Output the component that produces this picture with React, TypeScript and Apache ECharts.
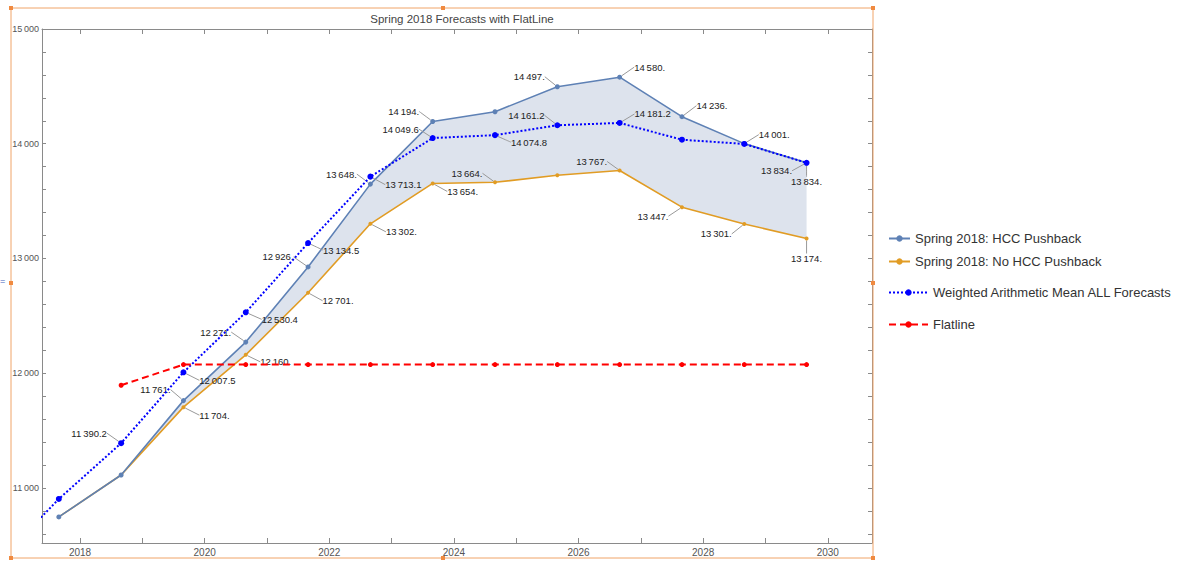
import React, { useEffect, useRef } from "react";
import * as echarts from "echarts";

// ---- data ----
const years = [2017.66, 2018.66, 2019.66, 2020.66, 2021.66, 2022.66, 2023.66, 2024.66, 2025.66, 2026.66, 2027.66, 2028.66, 2029.66];
const hccPushback = [10747, 11113, 11761, 12271, 12926, 13648, 14194, 14279, 14497, 14580, 14236, 14001, 13834];
const noHccPushback = [10747, 11113, 11704, 12160, 12701, 13302, 13654, 13664, 13725, 13767, 13447, 13301, 13174];
const meanYears = [2016.66, 2017.66, 2018.66, 2019.66, 2020.66, 2021.66, 2022.66, 2023.66, 2024.66, 2025.66, 2026.66, 2027.66, 2028.66, 2029.66];
const weightedMean = [10340, 10904, 11390.2, 12007.5, 12530.4, 13134.5, 13713.1, 14049.6, 14074.8, 14161.2, 14181.2, 14035, 13998, 13834];
const flatYears = [2018.66, 2019.66, 2020.66, 2021.66, 2022.66, 2023.66, 2024.66, 2025.66, 2026.66, 2027.66, 2028.66, 2029.66];
const flatline = [11895, 12075, 12075, 12075, 12075, 12075, 12075, 12075, 12075, 12075, 12075, 12075];

const xTicks = [2018, 2019, 2020, 2021, 2022, 2023, 2024, 2025, 2026, 2027, 2028, 2029, 2030];
const xLabels = [2018, 2020, 2022, 2024, 2026, 2028, 2030];
const yLabels = [11000, 12000, 13000, 14000, 15000];
const yTicks = [10600, 10800, 11000, 11200, 11400, 11600, 11800, 12000, 12200, 12400, 12600, 12800, 13000, 13200, 13400, 13600, 13800, 14000, 14200, 14400, 14600, 14800, 15000];

const NAMES = [
  "Spring 2018: HCC Pushback",
  "Spring 2018: No HCC Pushback",
  "Weighted Arithmetic Mean ALL Forecasts",
  "Flatline",
];

// label placement (offset of label centre from its point), null = no label
type P = [number, number] | null;
const hccLabelPos: P[] = [null, null, [-28, -11], [-30, -10], [-30, -10], [-29, -10], [-29, -10], null, [-28, -10], [30, -10], [30, -11], [30, -9], [0, 19]];
const noHccLabelPos: P[] = [null, null, [31, 8], [30, 7], [30, 8], [31, 8], [30, 8], [-28, -9], null, [-28, -9], [-29, 9], [-28, 10], [0, 20]];
const meanLabelPos: P[] = [null, null, [-32, -10], [34, 8], [34, 7], [33, 7], [33, 8], [-32, -9], [34, 7], [-31, -10], [33, -9], null, null, [-30, 8]];

const SP = "\u2009";
function group(s: string) {
  return s.replace(/\B(?=(\d{3})+(?!\d))/g, SP);
}
function fmtValue(v: number) {
  if (Number.isInteger(v)) return group(String(v)) + ".";
  const [i, d] = v.toFixed(1).split(".");
  return group(i) + "." + d;
}

const FONT = "'Liberation Sans', Arial, Helvetica, sans-serif";
const C_HCC = "#5e81b5";
const C_NO = "#e19c24";
const C_MEAN = "#0000ff";
const C_FLAT = "#ff0000";
const AXIS = "#8a8a8a";

function pairs(xs: number[], ys: number[]) {
  return ys.map((y, i) => [xs[i], y]);
}

function labelled(pos: P[]) {
  return {
    label: {
      show: true,
      position: "inside",
      fontSize: 9.5,
      fontFamily: FONT,
      color: "#222",
      formatter: (p: any) => (pos[p.dataIndex] ? fmtValue(p.value[1]) : ""),
    },
    labelLine: { show: true, smooth: 0.4, lineStyle: { color: "#999", width: 1 } },
    labelLayout: (p: any) => {
      const o = pos[p.dataIndex];
      return o ? { dx: o[0], dy: o[1] } : {};
    },
  };
}

export default function App() {
  const ref = useRef<HTMLDivElement>(null);
  useEffect(() => {
    if (!ref.current) return;
    const chart = echarts.init(ref.current, undefined, { renderer: "svg" });
    const legendBase = {
      orient: "vertical",
      left: 888,
      padding: 0,
      itemHeight: 8,
      itemGap: 5,
      textStyle: { fontSize: 13, fontFamily: FONT, color: "#333" },
      selectedMode: false,
    };
    const option: any = {
      animation: false,
      backgroundColor: "#fff",
      title: {
        text: "Spring 2018 Forecasts with FlatLine",
        left: 457,
        top: 8,
        textAlign: "center",
        textStyle: { fontSize: 11.5, fontWeight: "normal", color: "#444", fontFamily: FONT },
      },
      legend: [
        { ...legendBase, data: [NAMES[0]], top: 232, itemWidth: 21 },
        { ...legendBase, data: [NAMES[1]], top: 255, itemWidth: 21 },
        { ...legendBase, data: [NAMES[2]], top: 286, itemWidth: 39 },
        { ...legendBase, data: [NAMES[3]], top: 318, itemWidth: 39 },
      ],
      grid: { left: 42, right: 322, top: 29, bottom: 18, containLabel: false },
      xAxis: [
        {
          type: "value",
          min: 2017.39,
          max: 2030.71,
          axisLine: { show: true, lineStyle: { color: AXIS } },
          axisTick: { show: true, inside: true, length: 5, customValues: xTicks, lineStyle: { color: AXIS } },
          axisLabel: { customValues: xLabels, formatter: (v: number) => String(v), fontSize: 10, color: "#555", margin: 4, fontFamily: FONT },
          splitLine: { show: false },
        },
        {
          type: "value",
          position: "top",
          min: 2017.39,
          max: 2030.71,
          axisLine: { show: true, lineStyle: { color: AXIS } },
          axisTick: { show: true, inside: true, length: 5, customValues: xTicks, lineStyle: { color: AXIS } },
          axisLabel: { show: false },
          splitLine: { show: false },
        },
      ],
      yAxis: [
        {
          type: "value",
          min: 10520,
          max: 15000,
          axisLine: { show: true, lineStyle: { color: AXIS } },
          axisTick: { show: true, inside: true, length: 4, customValues: yTicks, lineStyle: { color: AXIS } },
          axisLabel: { customValues: yLabels, formatter: (v: number) => group(String(v)), fontSize: 9, color: "#555", margin: 3, fontFamily: FONT },
          splitLine: { show: false },
        },
        {
          type: "value",
          position: "right",
          min: 10520,
          max: 15000,
          axisLine: { show: true, lineStyle: { color: AXIS } },
          axisTick: { show: true, inside: true, length: 4, customValues: yTicks, lineStyle: { color: AXIS } },
          axisLabel: { show: false },
          splitLine: { show: false },
        },
      ],
      series: [
        {
          type: "custom",
          name: "band",
          silent: true,
          z: 1,
          data: [0],
          renderItem: (_params: any, api: any) => {
            const top = years.map((x, i) => api.coord([x, hccPushback[i]]));
            const bottom = years.map((x, i) => api.coord([x, noHccPushback[i]])).reverse();
            return {
              type: "polygon",
              shape: { points: top.concat(bottom) },
              style: { fill: "#dde3ed", stroke: "none" },
            };
          },
        },
        {
          type: "line",
          name: NAMES[1],
          data: pairs(years, noHccPushback),
          color: C_NO,
          symbol: "circle",
          symbolSize: 4,
          lineStyle: { color: C_NO, width: 1.6 },
          itemStyle: { color: C_NO },
          z: 3,
          ...labelled(noHccLabelPos),
        },
        {
          type: "line",
          name: NAMES[0],
          data: pairs(years, hccPushback),
          color: C_HCC,
          symbol: "circle",
          symbolSize: 5,
          lineStyle: { color: C_HCC, width: 1.6 },
          itemStyle: { color: C_HCC },
          z: 4,
          ...labelled(hccLabelPos),
        },
        {
          type: "line",
          name: NAMES[2],
          data: pairs(meanYears, weightedMean),
          color: C_MEAN,
          symbol: "circle",
          symbolSize: 6,
          lineStyle: { color: C_MEAN, width: 2, type: "dotted" },
          itemStyle: { color: C_MEAN },
          z: 5,
          ...labelled(meanLabelPos),
        },
        {
          type: "line",
          name: NAMES[3],
          data: pairs(flatYears, flatline),
          color: C_FLAT,
          symbol: "circle",
          symbolSize: 5,
          lineStyle: { color: C_FLAT, width: 2, type: [7, 4] },
          itemStyle: { color: C_FLAT },
          z: 6,
        },
      ],
      graphic: [
        { type: "rect", shape: { x: 11, y: 8, width: 862, height: 550 }, style: { fill: "none", stroke: "#f0a468", lineWidth: 1 }, z: 100, silent: true },
        ...[
          [11, 8], [443, 8], [873, 8], [11, 283], [873, 283], [11, 558], [443, 558], [873, 558],
        ].map(([x, y]) => ({ type: "rect", shape: { x: x - 2, y: y - 2, width: 4, height: 4 }, style: { fill: "#f08a40" }, z: 101, silent: true })),
        { type: "text", left: 0, top: 276, style: { text: "=", fill: "#4060c0", fontSize: 9, fontFamily: FONT }, silent: true },
      ],
    };
    chart.setOption(option);
    return () => chart.dispose();
  }, []);
  return <div ref={ref} style={{ position: "absolute", left: 0, top: 0, width: 1194, height: 561 }} />;
}
